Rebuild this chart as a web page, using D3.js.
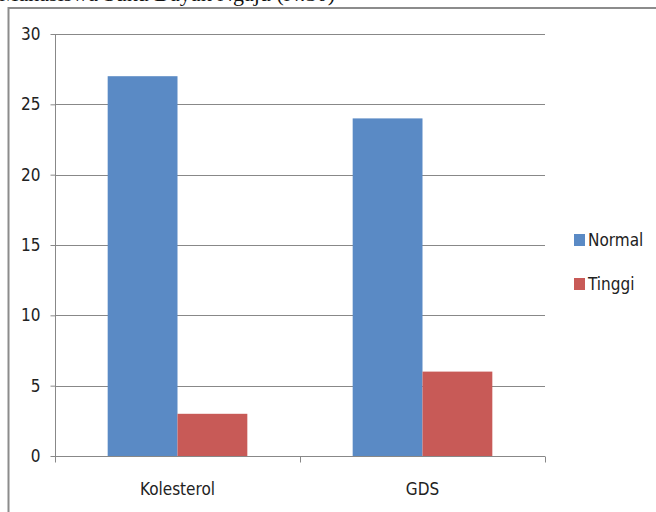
<!DOCTYPE html>
<html><head><meta charset="utf-8">
<script src="https://cdn.jsdelivr.net/npm/d3@7"></script>
<style>
html,body{margin:0;padding:0;background:#fff;}
svg{display:block;}
.lbl{font-family:'Liberation Sans Narrow','DejaVu Sans Condensed',sans-serif;font-size:17px;fill:#222;}
</style></head>
<body>
<svg id="c" width="656" height="512"></svg>
<script>
const titleText = "Mahasiswa Suku Dayak Ngaju (N:30)";
const categories = ["Kolesterol", "GDS"];
const seriesNames = ["Normal", "Tinggi"];
const normalValues = [27, 24];
const tinggiValues = [3, 6];
const yTicks = [0, 5, 10, 15, 20, 25, 30];
const colors = ["#5a8ac5", "#c85a57"];

const svg = d3.select("#c");
const data = categories.map((c, i) => ({cat: c, vals: [normalValues[i], tinggiValues[i]]}));

// title (cut off at top, as in the reference)
svg.append("text").attr("x", -1).attr("y", 1)
  .style("font-family", "'Liberation Serif','Times New Roman',serif")
  .style("font-size", "22px").attr("fill", "#111").text(titleText);

// frame
svg.append("line").attr("x1", 8).attr("x2", 656).attr("y1", 8).attr("y2", 8)
  .attr("stroke", "#8c8c8c").attr("stroke-width", 2);
svg.append("line").attr("x1", 8.5).attr("x2", 8.5).attr("y1", 7).attr("y2", 512)
  .attr("stroke", "#8c8c8c").attr("stroke-width", 2);

const x0 = d3.scaleBand().domain(categories).range([55, 545]).paddingInner(0.43).paddingOuter(0.215);
const x1 = d3.scaleBand().domain(seriesNames).range([0, x0.bandwidth()]);
const y = d3.scaleLinear().domain([0, 30]).range([456, 34]);

// gridlines
svg.append("g").selectAll("line").data(yTicks.filter(t => t > 0)).join("line")
  .attr("x1", 55).attr("x2", 545)
  .attr("y1", d => Math.round(y(d)) + 0.5).attr("y2", d => Math.round(y(d)) + 0.5)
  .attr("stroke", "#888").attr("stroke-width", 1);

// bars
const g = svg.append("g").selectAll("g").data(data).join("g")
  .attr("transform", d => `translate(${x0(d.cat)},0)`);
g.selectAll("rect").data(d => d.vals.map((v, i) => ({s: seriesNames[i], v, i}))).join("rect")
  .attr("x", d => x1(d.s)).attr("width", x1.bandwidth())
  .attr("y", d => y(d.v)).attr("height", d => y(0) - y(d.v))
  .attr("fill", d => colors[d.i]);

// y axis
const yAxis = d3.axisLeft(y).tickValues(yTicks).tickSize(5).tickPadding(10);
const ya = svg.append("g").attr("transform", "translate(55.5,0)").call(yAxis);
ya.selectAll("path,line").attr("stroke", "#888");
ya.selectAll("text").attr("class", "lbl").attr("fill", "#222").style("font-size", null).style("font-family", null);
ya.select(".domain").attr("d", `M0,${y(30)}V${y(0)}`);

// x axis
const xBound = d3.scaleOrdinal().domain(["a","b","c"]).range([55, 300, 545]);
const xa = svg.append("g").attr("transform", `translate(0,${Math.round(y(0)) + 0.5})`);
xa.append("line").attr("x1", 55).attr("x2", 545).attr("stroke", "#888");
xa.selectAll(".tk").data(xBound.domain()).join("line").attr("class", "tk")
  .attr("x1", d => xBound(d) + 0.5).attr("x2", d => xBound(d) + 0.5).attr("y1", 0).attr("y2", 6)
  .attr("stroke", "#888");
xa.selectAll("text").data(categories).join("text").attr("class", "lbl")
  .attr("x", d => x0(d) + x0.bandwidth() / 2).attr("y", 38).attr("text-anchor", "middle").text(d => d);

// legend
const lg = svg.append("g").selectAll("g").data(seriesNames).join("g")
  .attr("transform", (d, i) => `translate(574,${234 + i * 44})`);
lg.append("rect").attr("width", 11).attr("height", 12).attr("fill", (d, i) => colors[i]);
lg.append("text").attr("class", "lbl").attr("x", 14).attr("y", 12).text(d => d);
</script>
</body></html>
